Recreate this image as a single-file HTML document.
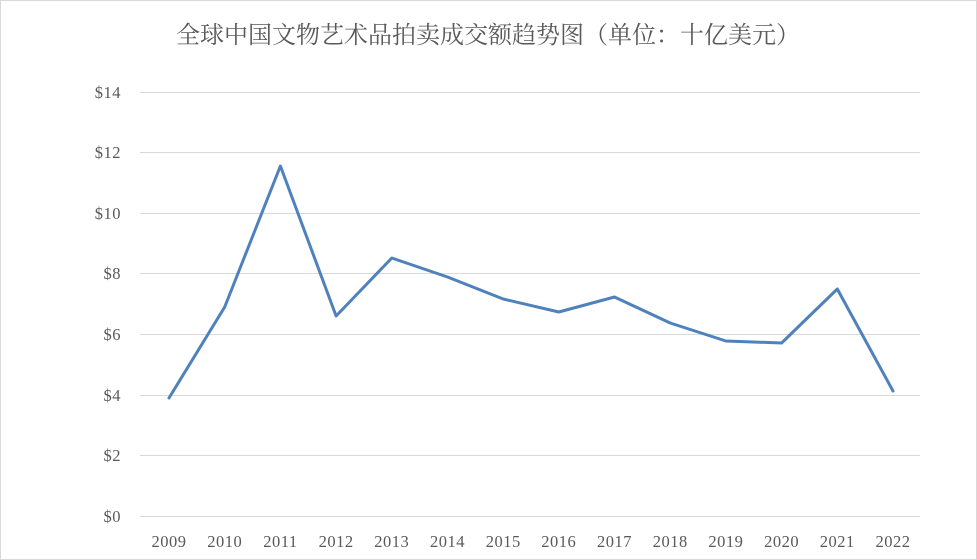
<!DOCTYPE html>
<html><head><meta charset="utf-8"><style>
html,body{margin:0;padding:0;background:#fff}
svg{display:block}
</style></head><body>
<svg width="977" height="560" xmlns="http://www.w3.org/2000/svg">
<rect x="0.5" y="0.5" width="976" height="559" fill="#fff" stroke="#d9d9d9"/>
<text x="488" y="43" text-anchor="middle" font-family="'Liberation Serif','Noto Serif CJK SC',serif" font-size="24" fill="#595959">全球中国文物艺术品拍卖成交额趋势图（单位：十亿美元）</text>
<g stroke="#d9d9d9" stroke-width="1">
<line x1="140" x2="920" y1="92.5" y2="92.5"/>
<line x1="140" x2="920" y1="152.5" y2="152.5"/>
<line x1="140" x2="920" y1="213.5" y2="213.5"/>
<line x1="140" x2="920" y1="273.5" y2="273.5"/>
<line x1="140" x2="920" y1="334.5" y2="334.5"/>
<line x1="140" x2="920" y1="395.5" y2="395.5"/>
<line x1="140" x2="920" y1="455.5" y2="455.5"/>
<line x1="140" x2="920" y1="516.5" y2="516.5"/>
</g>
<g font-family="'Liberation Serif',serif" font-size="16.5" fill="#595959" text-anchor="end" letter-spacing="0.5">
<text x="121" y="98">$14</text>
<text x="121" y="158">$12</text>
<text x="121" y="219">$10</text>
<text x="121" y="279">$8</text>
<text x="121" y="340">$6</text>
<text x="121" y="401">$4</text>
<text x="121" y="461">$2</text>
<text x="121" y="522">$0</text>
</g>
<g font-family="'Liberation Serif',serif" font-size="16.5" fill="#595959" text-anchor="middle" letter-spacing="0.5">
<text x="169" y="547">2009</text><text x="224.7" y="547">2010</text><text x="280.4" y="547">2011</text><text x="336.1" y="547">2012</text><text x="391.8" y="547">2013</text><text x="447.5" y="547">2014</text><text x="503.2" y="547">2015</text><text x="558.8" y="547">2016</text><text x="614.5" y="547">2017</text><text x="670.2" y="547">2018</text><text x="725.9" y="547">2019</text><text x="781.6" y="547">2020</text><text x="837.3" y="547">2021</text><text x="893" y="547">2022</text>
</g>
<polyline fill="none" stroke="#4f81bd" stroke-width="3" stroke-linejoin="round" stroke-linecap="round"
points="169,398 224.7,307 280.4,166 336.1,316 391.8,258 447.5,277 503.2,299 558.8,312 614.5,297 670.2,323 725.9,341 781.6,343 837.3,289 893,391"/>
</svg>
</body></html>
